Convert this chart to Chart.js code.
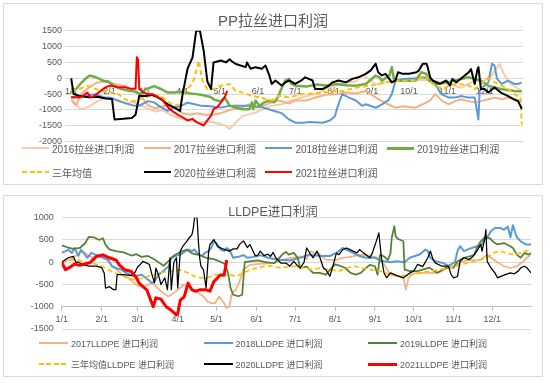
<!DOCTYPE html>
<html><head><meta charset="utf-8">
<script src="https://cdn.jsdelivr.net/npm/chart.js@4.4.1/dist/chart.umd.min.js"></script>
<style>
html,body{margin:0;padding:0;background:#fff;width:550px;height:383px;overflow:hidden;font-family:"Liberation Sans","Noto Sans CJK SC",sans-serif;color:#595959;}
.box{position:absolute;border:1px solid #d9d9d9;background:#fff;}
.box canvas{position:absolute;left:0;top:0;}
.title{position:absolute;left:0;width:100%;text-align:center;color:#595959;white-space:nowrap;font-family:"Liberation Sans","Noto Sans CJK SC",sans-serif;}
.legend{position:absolute;display:grid;}
.item{display:flex;align-items:center;height:14px;white-space:nowrap;color:#595959;font-family:"Liberation Sans","Noto Sans CJK SC",sans-serif;}
.swatch{flex:none;margin-right:3px;}
</style></head>
<body>
<div class="box" style="left:3px;top:3px;width:538px;height:180px;">
  <canvas id="c1" width="538" height="180"></canvas>
  <div class="title" style="top:8px;font-size:15px;line-height:18px;">PP拉丝进口利润</div>
  <div class="legend" id="lg1" style="left:18px;top:137px;grid-template-columns:repeat(4,121.7px);row-gap:10px;font-size:10px;"></div>
</div>
<div class="box" style="left:3px;top:195px;width:538px;height:180px;">
  <canvas id="c2" width="538" height="180"></canvas>
  <div class="title" style="top:7.5px;font-size:12.5px;line-height:16px;">LLDPE进口利润</div>
  <div class="legend" id="lg2" style="left:35px;top:140px;grid-template-columns:repeat(3,164.5px);row-gap:7px;font-size:9px;"></div>
</div>
<script>
// ---------- shared axis data ----------
const monthStarts = [0,31,59,90,120,151,181,212,243,273,304,334];
const monthLabels = ['1/1','2/1','3/1','4/1','5/1','6/1','7/1','8/1','9/1','10/1','11/1','12/1'];

// ---------- PP 拉丝进口利润 : [day of year, value] ----------
const ppLabels = ['2016拉丝进口利润','2017拉丝进口利润','2018拉丝进口利润','2019拉丝进口利润','三年均值','2020拉丝进口利润','2021拉丝进口利润'];
const pp2016 = [[0,-600],[4,-850],[8,-980],[14,-900],[20,-750],[26,-650],[32,-600],[38,-700],[44,-800],[50,-750],[56,-850],[62,-950],[68,-1050],[74,-1000],[80,-1150],[86,-1250],[92,-1300],[98,-1350],[104,-1400],[110,-1350],[116,-1400],[121,-1450],[125,-1500],[128,-1600],[133,-1400],[138,-1200],[144,-1130],[149,-1080],[155,-980],[162,-870],[170,-820],[178,-700],[187,-600],[198,-480],[208,-300],[219,-150],[230,-100],[235,100],[240,0],[246,-200],[256,-100],[266,-50],[276,-75],[286,-50],[296,-100],[305,-180],[315,-300],[326,-75],[333,-100],[340,100],[346,450],[350,100],[355,-180],[364,-400]];
const pp2017 = [[0,-700],[4,-850],[8,-500],[14,-300],[20,-150],[26,-100],[32,-150],[38,-200],[44,-250],[50,-400],[56,-550],[62,-850],[68,-950],[72,-900],[78,-850],[84,-950],[90,-1100],[96,-1150],[102,-1100],[108,-1150],[114,-1150],[121,-1100],[128,-1000],[138,-920],[144,-820],[149,-920],[155,-870],[162,-760],[168,-700],[176,-800],[181,-700],[190,-700],[198,-600],[206,-520],[214,-500],[222,-450],[230,-480],[238,-400],[246,-600],[251,-720],[256,-820],[262,-930],[268,-880],[278,-930],[284,-820],[290,-700],[294,-500],[300,-720],[305,-820],[310,-720],[315,-660],[321,-720],[326,-760],[331,-720],[337,-660],[342,-610],[348,-660],[353,-610],[358,-660],[364,-720]];
const pp2018 = [[0,-600],[5,-600],[12,-550],[19,-500],[26,-600],[32,-620],[38,-710],[45,-800],[51,-870],[56,-850],[62,-720],[67,-760],[72,-900],[78,-1030],[83,-920],[89,-870],[94,-770],[100,-820],[105,-870],[112,-880],[121,-920],[128,-870],[136,-870],[146,-870],[155,-920],[164,-1030],[170,-1100],[176,-1300],[181,-1400],[187,-1400],[193,-1380],[203,-1400],[209,-1330],[213,-1200],[215,-930],[217,-700],[219,-500],[224,-600],[230,-700],[235,-870],[238,-820],[246,-930],[251,-820],[256,-700],[259,-500],[262,-75],[268,-20],[278,0],[284,30],[289,-20],[294,-180],[299,-500],[305,-610],[310,-610],[315,-560],[321,-610],[326,-610],[329,-1300],[330,-400],[332,-300],[337,-130],[340,460],[342,400],[344,-20],[348,-180],[353,-75],[358,-180],[361,-180],[364,-130]];
const pp2019 = [[0,-450],[4,-340],[8,-150],[12,0],[15,85],[20,30],[26,-75],[30,-100],[35,-250],[40,-330],[46,-390],[52,-420],[56,-500],[60,-350],[67,-250],[72,-330],[78,-450],[84,-450],[90,-420],[96,-480],[101,-500],[106,-530],[112,-580],[116,-680],[121,-730],[124,-600],[128,-870],[133,-920],[138,-975],[144,-975],[146,-760],[147,-975],[149,-700],[152,-870],[156,-760],[160,-710],[164,-760],[167,-600],[169,-400],[171,-235],[173,-75],[176,-20],[178,-180],[181,-235],[190,-260],[198,-200],[206,-230],[214,-180],[222,-220],[230,-235],[238,-180],[246,85],[249,30],[251,-75],[257,85],[259,350],[261,-75],[272,-75],[278,-75],[283,190],[287,140],[289,-75],[294,-180],[304,-130],[315,-20],[321,30],[326,-20],[331,-75],[337,-235],[347,-340],[358,-400],[364,-420]];
const ppAvg = [[0,-390],[7,-330],[13,-230],[19,-330],[24,-390],[32,-440],[38,-500],[43,-650],[48,-735],[53,-700],[59,-600],[66,-550],[72,-550],[77,-700],[83,-860],[88,-820],[91,-440],[95,-280],[98,-170],[100,80],[103,560],[106,-70],[110,-340],[115,-340],[121,-230],[128,-180],[133,-400],[138,-445],[146,-550],[152,-600],[162,-700],[168,-550],[176,-600],[187,-500],[197,-480],[203,-450],[214,-400],[219,-400],[230,-300],[246,-200],[262,-75],[278,-75],[286,85],[292,-180],[300,-340],[305,-240],[310,-180],[320,-200],[326,-340],[331,-180],[337,0],[342,-120],[348,-240],[353,-340],[358,-500],[363,-600],[364,-1460]];
const pp2020 = [[0,0],[2,-500],[7,-560],[14,-600],[21,-580],[28,-640],[33,-650],[35,-1300],[42,-1280],[49,-1250],[52,-1150],[55,-550],[60,-560],[65,-520],[70,-600],[74,-700],[78,-820],[83,-920],[88,-1030],[90,-500],[94,300],[98,650],[101,1500],[104,1500],[107,880],[110,-100],[113,-340],[115,500],[121,560],[125,500],[128,600],[130,530],[133,450],[141,350],[142,500],[145,300],[149,350],[154,300],[157,400],[160,100],[162,-180],[165,-70],[170,-230],[173,-130],[176,-70],[181,-180],[186,-70],[189,30],[192,-20],[195,-70],[197,-340],[203,-340],[208,-240],[211,-130],[216,-70],[222,-130],[227,-20],[232,30],[238,140],[242,250],[246,460],[248,190],[251,90],[254,140],[259,-130],[262,-70],[264,190],[268,140],[273,140],[279,190],[281,250],[284,460],[287,460],[288,350],[290,30],[292,-70],[298,-180],[303,-70],[306,-230],[308,-20],[311,-130],[313,-70],[318,90],[321,180],[323,290],[326,-180],[328,250],[329,350],[331,-340],[334,-340],[337,-450],[342,-290],[347,-450],[353,-560],[358,-670],[361,-720],[364,-960]];
const pp2021 = [[0,-600],[8,-600],[13,-450],[16,-600],[19,-550],[24,-390],[28,-280],[32,-230],[38,-280],[43,-280],[48,-330],[52,-330],[53,660],[54,600],[55,-330],[58,-440],[62,-500],[66,-500],[70,-600],[73,-650],[75,-750],[79,-950],[83,-1070],[87,-1170],[90,-1230],[94,-1330],[98,-1280],[102,-1400],[107,-1490],[110,-1330],[113,-1180],[115,-970],[118,-920],[121,-760],[124,-600],[126,-400]];

// ---------- LLDPE 进口利润 ----------
const peLabels = ['2017LLDPE 进口利润','2018LLDPE 进口利润','2019LLDPE 进口利润','三年均值LLDPE 进口利润','2020LLDPE 进口利润','2021LLDPE 进口利润'];
const pe2017 = [[0,0],[4,40],[8,90],[12,170],[16,250],[20,170],[24,100],[28,170],[33,100],[38,-50],[44,-200],[48,-310],[52,-360],[56,-465],[60,-540],[65,-530],[70,-470],[73,-540],[77,-650],[80,-720],[83,-770],[87,-690],[90,-620],[95,-500],[98,-540],[102,-650],[106,-690],[110,-770],[113,-880],[116,-920],[119,-920],[122,-770],[126,-920],[128,-1030],[130,-1000],[132,-700],[135,-620],[138,-430],[141,-165],[146,-60],[152,-40],[158,-30],[164,-20],[172,60],[177,90],[185,130],[190,70],[193,250],[196,200],[200,180],[205,60],[212,40],[218,100],[224,120],[232,170],[239,150],[245,100],[250,-50],[255,-280],[262,-315],[265,-350],[267,-615],[269,-350],[273,-250],[280,-240],[286,-240],[291,-240],[298,-150],[304,-90],[309,0],[317,60],[322,40],[325,60],[330,170],[333,100],[338,0],[343,-90],[348,-130],[353,-90],[358,20],[361,100],[364,170]];
const pe2018 = [[0,210],[3,250],[5,280],[8,210],[10,320],[13,140],[15,280],[18,170],[20,100],[23,210],[26,170],[29,140],[32,100],[36,60],[39,-90],[42,-130],[46,-165],[50,-240],[53,-280],[56,-315],[62,-280],[67,-390],[70,-465],[72,-430],[75,-280],[77,-240],[80,-165],[83,-90],[85,100],[88,140],[92,170],[96,250],[98,285],[101,250],[103,285],[106,170],[109,140],[111,210],[114,250],[116,320],[118,470],[120,430],[123,290],[126,250],[128,320],[130,280],[133,100],[138,130],[141,160],[144,100],[149,120],[154,160],[160,100],[167,60],[177,40],[185,100],[192,170],[200,140],[208,140],[213,210],[218,320],[221,280],[226,210],[231,140],[236,100],[243,100],[247,40],[250,20],[255,0],[260,20],[266,0],[270,100],[274,140],[278,180],[282,285],[284,250],[286,100],[290,20],[296,-20],[300,-80],[302,-50],[305,0],[307,250],[309,360],[312,250],[316,300],[322,360],[325,360],[328,520],[331,600],[333,700],[336,770],[340,770],[343,730],[346,800],[348,560],[350,830],[353,560],[356,470],[360,400],[364,400]];
const pe2019 = [[0,380],[5,330],[9,300],[14,320],[18,420],[21,570],[25,560],[29,500],[32,540],[34,390],[37,290],[42,250],[48,220],[54,150],[58,180],[62,120],[67,140],[72,60],[76,-20],[79,-80],[82,0],[87,150],[92,230],[97,285],[101,200],[107,160],[112,100],[118,70],[124,0],[127,-50],[129,-240],[131,-580],[133,-730],[137,-765],[140,-730],[141,-350],[142,0],[146,20],[152,40],[158,0],[165,-20],[172,200],[174,230],[176,170],[180,210],[183,100],[185,-130],[190,-100],[195,-240],[200,-240],[205,-280],[208,-170],[212,-50],[216,-80],[220,-130],[224,-240],[228,-280],[232,-240],[236,-130],[239,-60],[243,-90],[245,-280],[247,170],[250,130],[253,50],[255,200],[256,550],[258,810],[259,580],[261,520],[265,470],[266,-165],[270,-200],[276,-200],[280,-165],[285,-120],[291,-240],[294,-200],[298,-120],[304,-120],[307,20],[312,100],[317,135],[320,170],[322,320],[325,470],[328,550],[332,540],[335,450],[338,400],[343,430],[348,360],[350,320],[353,170],[356,100],[359,210],[362,170],[364,210]];
const peAvg = [[0,0],[5,40],[10,60],[15,30],[20,0],[26,-40],[31,-90],[36,-165],[41,-240],[46,-280],[51,-350],[56,-390],[62,-360],[67,-315],[72,-280],[77,-240],[82,-200],[87,-200],[92,-170],[98,-240],[103,-315],[108,-350],[113,-350],[119,-280],[125,-315],[130,-280],[136,-315],[141,-240],[146,-165],[152,-130],[157,-90],[163,-90],[170,-130],[176,-100],[182,-90],[188,-130],[194,-165],[200,-130],[208,-165],[215,-200],[221,-130],[227,-90],[233,-130],[239,-165],[247,-200],[255,-280],[262,-315],[270,-280],[278,-240],[286,-200],[293,-165],[301,-130],[309,-60],[317,0],[325,60],[330,100],[335,210],[340,250],[345,210],[350,170],[356,210],[364,285]];
const pe2020 = [[0,0],[5,100],[9,130],[11,0],[13,0],[16,-50],[21,-90],[27,-90],[31,-120],[33,-250],[34,-580],[37,-550],[40,-615],[42,-615],[43,-280],[48,-280],[54,-300],[57,-220],[59,-100],[61,-50],[63,20],[66,-20],[68,-50],[70,-280],[72,-465],[73,-130],[75,-280],[77,-500],[80,-350],[82,-615],[84,100],[85,-615],[87,0],[89,100],[90,-580],[92,250],[94,360],[97,470],[99,550],[101,620],[102,750],[103,1000],[105,1000],[106,470],[107,100],[108,-90],[110,-170],[112,-580],[114,250],[115,400],[118,510],[121,350],[125,300],[130,250],[133,300],[136,300],[138,400],[141,480],[144,330],[146,400],[150,150],[152,150],[154,250],[157,150],[160,180],[162,130],[164,220],[166,100],[170,-20],[174,-20],[177,-90],[180,20],[182,-50],[185,-130],[188,0],[190,320],[193,180],[195,100],[198,250],[200,130],[203,-130],[205,-170],[208,-315],[211,-20],[213,200],[215,170],[218,285],[221,320],[226,250],[229,210],[231,285],[234,210],[236,170],[239,100],[241,210],[244,470],[246,660],[248,100],[250,-240],[252,-350],[255,-240],[260,-300],[265,-350],[270,-240],[273,-200],[276,-50],[280,-100],[284,100],[286,250],[288,60],[290,-20],[295,-90],[300,-90],[302,-280],[304,-350],[307,-320],[309,20],[312,100],[316,60],[319,130],[322,250],[325,400],[326,250],[328,510],[329,735],[330,20],[333,-130],[336,-240],[338,-350],[342,-300],[348,-240],[351,-260],[354,-200],[356,-130],[359,-90],[361,-130],[364,-240]];
const pe2021 = [[0,0],[3,-170],[7,-100],[10,-40],[14,-70],[18,-40],[22,-10],[27,130],[32,165],[37,100],[42,50],[45,-70],[49,-170],[54,-210],[58,-350],[60,-470],[63,-550],[66,-620],[69,-850],[71,-1000],[73,-800],[77,-830],[81,-1000],[85,-1080],[89,-1185],[90,-1150],[92,-850],[95,-780],[98,-470],[101,-620],[104,-650],[107,-620],[112,-620],[115,-650],[118,-435],[121,-350],[123,-285],[126,-285],[128,50]];

// ---------- styles ----------
const ppStyles = [
  {color:'#F8CBAD', width:2},
  {color:'#F4B183', width:2},
  {color:'#5B9BD5', width:2},
  {color:'#70AD47', width:2.5},
  {color:'#FFC000', width:2, dash:[5,3]},
  {color:'#000000', width:2},
  {color:'#FF0000', width:2}
];
const peStyles = [
  {color:'#F4B183', width:1.75},
  {color:'#5B9BD5', width:2},
  {color:'#538135', width:1.75},
  {color:'#FFC000', width:1.75, dash:[5,3]},
  {color:'#000000', width:1.25},
  {color:'#FF0000', width:3}
];

const tickFont = {family:'"Liberation Sans", sans-serif', size:9};

function buildChart(canvasId, labels, seriesList, styles, opt) {
  const n = seriesList.length;
  const datasets = seriesList.map((s, i) => ({
    label: labels[i],
    data: s.map(p => ({x: p[0], y: p[1]})),
    borderColor: styles[i].color,
    backgroundColor: styles[i].color,
    borderWidth: styles[i].width,
    borderDash: styles[i].dash || [],
    borderJoinStyle: 'round',
    pointRadius: 0,
    pointHoverRadius: 0,
    tension: 0,
    fill: false,
    order: n - i
  }));
  return new Chart(document.getElementById(canvasId), {
    type: 'line',
    data: {datasets},
    options: {
      responsive: false,
      animation: false,
      devicePixelRatio: 1,
      events: [],
      layout: {padding: opt.padding},
      plugins: {legend: {display: false}, tooltip: {enabled: false}, title: {display: false}},
      scales: {
        x: {
          type: 'linear',
          min: opt.xMin, max: opt.xMax,
          position: {y: opt.cross},
          grid: {display: opt.tickMarks, drawOnChartArea: false, drawTicks: opt.tickMarks, tickLength: 4, color: '#bfbfbf'},
          border: {display: true, color: opt.axisColor, width: 1},
          afterBuildTicks: s => { s.ticks = monthStarts.map(v => ({value: v})); },
          ticks: {autoSkip: false, maxRotation: 0, minRotation: 0, padding: opt.xPad, color: '#595959', font: tickFont,
                  callback: (v, i) => monthLabels[i]}
        },
        y: {
          min: opt.yMin, max: opt.yMax,
          afterFit: s => { s.width = opt.yWidth; },
          grid: {color: '#d9d9d9', lineWidth: 1, drawTicks: false},
          border: {display: false},
          ticks: {stepSize: 500, padding: opt.yPad, color: '#595959', font: tickFont,
                  callback: v => String(v)}
        }
      }
    }
  });
}

buildChart('c1', ppLabels, [pp2016, pp2017, pp2018, pp2019, ppAvg, pp2020, pp2021], ppStyles, {
  padding: {left: 0, top: 26.7, right: 19, bottom: 42.3},
  xMin: -5, xMax: 365, cross: 0, tickMarks: false, axisColor: '#d9d9d9', xPad: 8,
  yMin: -2000, yMax: 1500, yWidth: 61, yPad: 3
});
buildChart('c2', peLabels, [pe2017, pe2018, pe2019, peAvg, pe2020, pe2021], peStyles, {
  padding: {left: 0, top: 21.7, right: 11, bottom: 47},
  xMin: 0, xMax: 364, cross: -1000, tickMarks: true, axisColor: '#bfbfbf', xPad: 3,
  yMin: -1500, yMax: 1000, yWidth: 57.7, yPad: 8
});

// ---------- HTML legends ----------
function buildLegend(id, labels, styles, sw) {
  const el = document.getElementById(id);
  labels.forEach((lab, i) => {
    const st = styles[i];
    const item = document.createElement('div');
    item.className = 'item';
    const s = document.createElement('span');
    s.className = 'swatch';
    s.style.width = sw + 'px';
    const h = Math.max(2, Math.round(st.width));
    s.style.height = h + 'px';
    if (st.dash) {
      s.style.background = 'repeating-linear-gradient(to right,' + st.color + ' 0 5px, transparent 5px 7.5px)';
    } else {
      s.style.background = st.color;
    }
    const t = document.createElement('span');
    t.textContent = lab;
    item.appendChild(s);
    item.appendChild(t);
    el.appendChild(item);
  });
}
buildLegend('lg1', ppLabels, ppStyles, 27);
buildLegend('lg2', peLabels, peStyles, 29);
</script>
</body></html>
